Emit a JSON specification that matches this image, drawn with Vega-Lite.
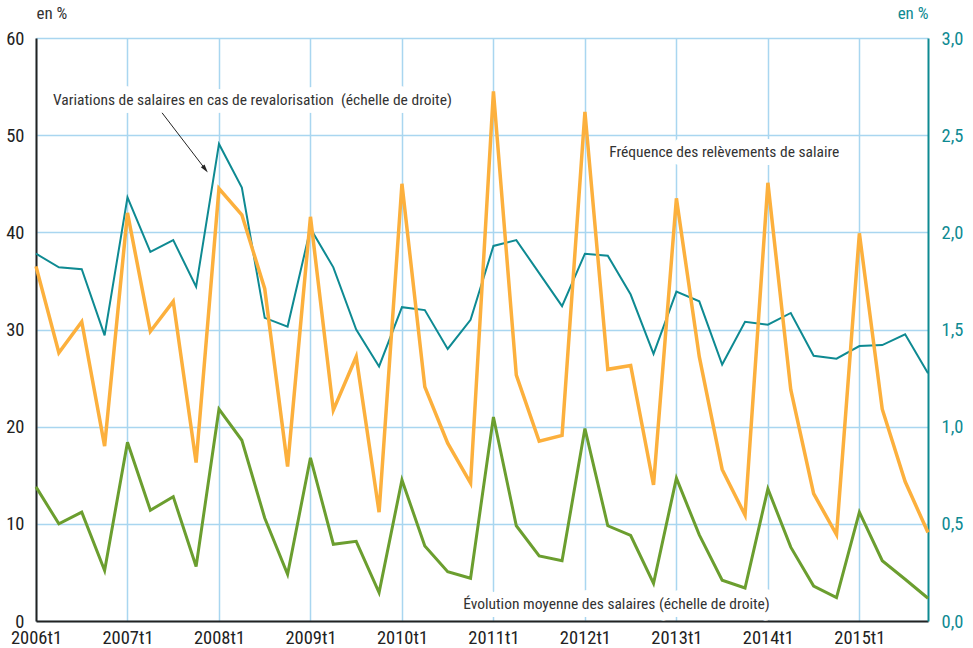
{
  "$schema": "https://vega.github.io/schema/vega-lite/v6.json",
  "width": 892,
  "height": 583,
  "autosize": {"type": "none"},
  "padding": {"left": 36, "top": 38, "right": 45, "bottom": 27},
  "background": "white",
  "config": {
    "view": {"stroke": null},
    "font": "Liberation Sans Narrow, Roboto Condensed, DejaVu Sans Condensed, sans-serif",
    "axis": {"labelFontSize": 18.5, "titleFontWeight": "normal", "titleFontSize": 17}
  },
  "datasets": {
    "series": [
      {"periode": "2006t1", "date": 2006.00, "frequence": 36.5, "variation": 1.89, "evolution": 0.69},
      {"periode": "2006t2", "date": 2006.25, "frequence": 27.6, "variation": 1.82, "evolution": 0.50},
      {"periode": "2006t3", "date": 2006.50, "frequence": 30.8, "variation": 1.81, "evolution": 0.56},
      {"periode": "2006t4", "date": 2006.75, "frequence": 18.0, "variation": 1.47, "evolution": 0.26},
      {"periode": "2007t1", "date": 2007.00, "frequence": 42.0, "variation": 2.18, "evolution": 0.92},
      {"periode": "2007t2", "date": 2007.25, "frequence": 29.8, "variation": 1.90, "evolution": 0.57},
      {"periode": "2007t3", "date": 2007.50, "frequence": 32.9, "variation": 1.96, "evolution": 0.64},
      {"periode": "2007t4", "date": 2007.75, "frequence": 16.3, "variation": 1.72, "evolution": 0.28},
      {"periode": "2008t1", "date": 2008.00, "frequence": 44.5, "variation": 2.455, "evolution": 1.09},
      {"periode": "2008t2", "date": 2008.25, "frequence": 41.8, "variation": 2.23, "evolution": 0.93},
      {"periode": "2008t3", "date": 2008.50, "frequence": 34.2, "variation": 1.56, "evolution": 0.53},
      {"periode": "2008t4", "date": 2008.75, "frequence": 15.9, "variation": 1.515, "evolution": 0.24},
      {"periode": "2009t1", "date": 2009.00, "frequence": 41.6, "variation": 2.02, "evolution": 0.84},
      {"periode": "2009t2", "date": 2009.25, "frequence": 21.7, "variation": 1.82, "evolution": 0.395},
      {"periode": "2009t3", "date": 2009.50, "frequence": 27.2, "variation": 1.50, "evolution": 0.41},
      {"periode": "2009t4", "date": 2009.75, "frequence": 11.2, "variation": 1.31, "evolution": 0.146},
      {"periode": "2010t1", "date": 2010.00, "frequence": 45.0, "variation": 1.615, "evolution": 0.726},
      {"periode": "2010t2", "date": 2010.25, "frequence": 24.1, "variation": 1.60, "evolution": 0.386},
      {"periode": "2010t3", "date": 2010.50, "frequence": 18.3, "variation": 1.40, "evolution": 0.254},
      {"periode": "2010t4", "date": 2010.75, "frequence": 14.2, "variation": 1.55, "evolution": 0.22},
      {"periode": "2011t1", "date": 2011.00, "frequence": 54.5, "variation": 1.93, "evolution": 1.05},
      {"periode": "2011t2", "date": 2011.25, "frequence": 25.3, "variation": 1.96, "evolution": 0.49},
      {"periode": "2011t3", "date": 2011.50, "frequence": 18.5, "variation": 1.79, "evolution": 0.335},
      {"periode": "2011t4", "date": 2011.75, "frequence": 19.1, "variation": 1.62, "evolution": 0.31},
      {"periode": "2012t1", "date": 2012.00, "frequence": 52.4, "variation": 1.89, "evolution": 0.99},
      {"periode": "2012t2", "date": 2012.25, "frequence": 25.9, "variation": 1.88, "evolution": 0.49},
      {"periode": "2012t3", "date": 2012.50, "frequence": 26.3, "variation": 1.68, "evolution": 0.44},
      {"periode": "2012t4", "date": 2012.75, "frequence": 14.0, "variation": 1.375, "evolution": 0.194},
      {"periode": "2013t1", "date": 2013.00, "frequence": 43.5, "variation": 1.695, "evolution": 0.735},
      {"periode": "2013t2", "date": 2013.25, "frequence": 27.2, "variation": 1.645, "evolution": 0.443},
      {"periode": "2013t3", "date": 2013.50, "frequence": 15.6, "variation": 1.32, "evolution": 0.21},
      {"periode": "2013t4", "date": 2013.75, "frequence": 10.9, "variation": 1.54, "evolution": 0.17},
      {"periode": "2014t1", "date": 2014.00, "frequence": 45.1, "variation": 1.525, "evolution": 0.68},
      {"periode": "2014t2", "date": 2014.25, "frequence": 23.8, "variation": 1.585, "evolution": 0.38},
      {"periode": "2014t3", "date": 2014.50, "frequence": 13.1, "variation": 1.365, "evolution": 0.18},
      {"periode": "2014t4", "date": 2014.75, "frequence": 8.9, "variation": 1.35, "evolution": 0.12},
      {"periode": "2015t1", "date": 2015.00, "frequence": 39.9, "variation": 1.415, "evolution": 0.56},
      {"periode": "2015t2", "date": 2015.25, "frequence": 21.8, "variation": 1.42, "evolution": 0.31},
      {"periode": "2015t3", "date": 2015.50, "frequence": 14.35, "variation": 1.475, "evolution": 0.215},
      {"periode": "2015t4", "date": 2015.75, "frequence": 9.1, "variation": 1.275, "evolution": 0.117}
    ],
    "annotations": [
      {"texte": "Variations de salaires en cas de revalorisation \u00a0(échelle de droite)", "date": 2006.186, "valeur": 53.65},
      {"texte": "Fréquence des relèvements de salaire", "date": 2012.266, "valeur": 48.3},
      {"texte": "Évolution moyenne des salaires (échelle de droite)", "date": 2010.669, "valeur": 1.75}
    ],
    "fleche": [
      {"date": 2007.378, "valeur": 52.3, "date2": 2007.85, "valeur2": 46.5, "angle": 142.5}
    ]
  },
  "encoding": {
    "x": {
      "field": "date",
      "type": "quantitative",
      "scale": {"domain": [2006, 2015.75], "nice": false, "zero": false},
      "axis": {
        "values": [2006, 2007, 2008, 2009, 2010, 2011, 2012, 2013, 2014, 2015],
        "labelExpr": "format(datum.value, 'd') + 't1'",
        "title": null,
        "grid": true,
        "gridColor": "#a9d6f0",
        "gridWidth": 1.5,
        "ticks": false,
        "tickSize": 0,
        "domainColor": "#222222",
        "domainWidth": 2,
        "labelColor": "#222222",
        "labelPadding": 7,
        "labelFlush": false
      }
    }
  },
  "layer": [
    {
      "data": {"name": "series"},
      "mark": {"type": "line", "color": "#0e8a92", "strokeWidth": 2},
      "encoding": {
        "y": {
          "field": "variation",
          "type": "quantitative",
          "scale": {"domain": [0, 3], "nice": false},
          "axis": {
            "orient": "right",
            "values": [0, 0.5, 1, 1.5, 2, 2.5, 3],
            "labelExpr": "replace(format(datum.value, '.1f'), '.', ',')",
            "grid": false,
            "ticks": false,
            "tickSize": 0,
            "domainColor": "#0e8a92",
            "domainWidth": 2,
            "labelColor": "#0e8a92",
            "labelPadding": 13,
            "title": "en %",
            "titleColor": "#0e8a92",
            "titleAngle": 0,
            "titleAlign": "right",
            "titleBaseline": "alphabetic",
            "titleX": 0,
            "titleY": -20
          }
        }
      }
    },
    {
      "data": {"name": "series"},
      "mark": {"type": "line", "color": "#fcb03d", "strokeWidth": 3.5},
      "encoding": {
        "y": {
          "field": "frequence",
          "type": "quantitative",
          "scale": {"domain": [0, 60], "nice": false},
          "axis": {
            "orient": "left",
            "values": [0, 10, 20, 30, 40, 50, 60],
            "grid": true,
            "gridColor": "#a9d6f0",
            "gridWidth": 1.5,
            "ticks": false,
            "tickSize": 0,
            "domainColor": "#222222",
            "domainWidth": 2,
            "labelColor": "#222222",
            "labelPadding": 12,
            "title": "en %",
            "titleColor": "#333333",
            "titleAngle": 0,
            "titleAlign": "left",
            "titleBaseline": "alphabetic",
            "titleX": 0,
            "titleY": -20
          }
        }
      }
    },
    {
      "data": {"name": "series"},
      "mark": {"type": "line", "color": "#6b9e2f", "strokeWidth": 3},
      "encoding": {
        "y": {
          "field": "evolution",
          "type": "quantitative",
          "scale": {"domain": [0, 3], "nice": false},
          "axis": null
        }
      }
    },
    {
      "data": {"name": "annotations"},
      "mark": {"type": "text", "align": "left", "baseline": "middle", "fontSize": 15.5, "color": "white", "stroke": "white", "strokeWidth": 16, "strokeJoin": "round"},
      "encoding": {
        "y": {"field": "valeur", "type": "quantitative", "scale": {"domain": [0, 60], "nice": false}, "axis": null},
        "text": {"field": "texte"}
      }
    },
    {
      "data": {"name": "annotations"},
      "mark": {"type": "text", "align": "left", "baseline": "middle", "fontSize": 15.5, "color": "#333333"},
      "encoding": {
        "y": {"field": "valeur", "type": "quantitative", "scale": {"domain": [0, 60], "nice": false}, "axis": null},
        "text": {"field": "texte"}
      }
    },
    {
      "data": {"name": "fleche"},
      "mark": {"type": "rule", "color": "#222222", "strokeWidth": 1},
      "encoding": {
        "y": {"field": "valeur", "type": "quantitative", "scale": {"domain": [0, 60], "nice": false}, "axis": null},
        "x2": {"field": "date2"},
        "y2": {"field": "valeur2"}
      }
    },
    {
      "data": {"name": "fleche"},
      "mark": {"type": "point", "shape": "M0,-1L0.55,1L-0.55,1Z", "filled": true, "color": "#222222", "size": 70, "opacity": 1},
      "encoding": {
        "x": {"field": "date2", "type": "quantitative"},
        "y": {"field": "valeur2", "type": "quantitative", "scale": {"domain": [0, 60], "nice": false}, "axis": null},
        "angle": {"field": "angle", "type": "quantitative", "scale": null}
      }
    }
  ],
  "resolve": {"scale": {"y": "independent"}}
}
